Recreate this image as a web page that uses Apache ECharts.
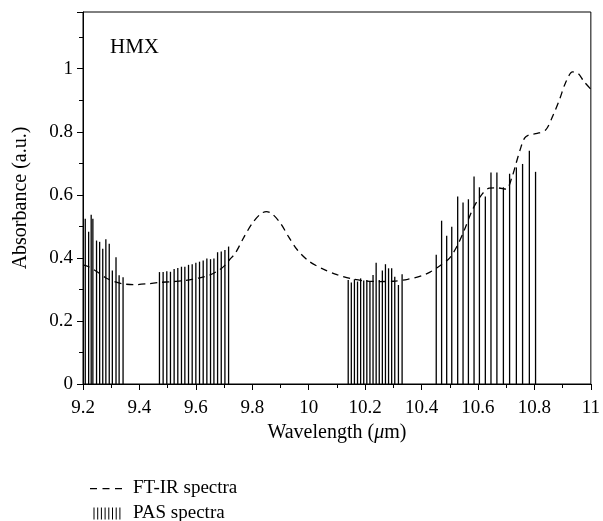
<!DOCTYPE html>
<html><head><meta charset="utf-8">
<script src="https://cdn.jsdelivr.net/npm/echarts@6/dist/echarts.min.js"></script>
<style>html,body{margin:0;padding:0;background:#fff}#c{width:603px;height:521px}</style>
</head><body><div id="c"></div>
<script>
// FT-IR spectrum (dashed curve)
const ftirWavelength = [9.20, 9.22, 9.25, 9.28, 9.31, 9.34, 9.38, 9.43, 9.47, 9.52, 9.56, 9.61, 9.65, 9.68, 9.70, 9.72, 9.74, 9.77, 9.80, 9.83, 9.85, 9.87, 9.90, 9.93, 9.96, 10.00, 10.05, 10.10, 10.15, 10.20, 10.25, 10.30, 10.35, 10.40, 10.43, 10.47, 10.50, 10.525, 10.55, 10.58, 10.61, 10.64, 10.67, 10.70, 10.72, 10.735, 10.75, 10.765, 10.78, 10.81, 10.84, 10.865, 10.89, 10.91, 10.935, 10.955, 10.975, 11.00];
const ftirAbsorbance = [0.378, 0.372, 0.356, 0.337, 0.325, 0.318, 0.315, 0.318, 0.322, 0.325, 0.328, 0.336, 0.346, 0.360, 0.374, 0.395, 0.415, 0.465, 0.510, 0.540, 0.547, 0.540, 0.510, 0.465, 0.425, 0.390, 0.365, 0.347, 0.334, 0.327, 0.325, 0.326, 0.332, 0.343, 0.355, 0.378, 0.400, 0.436, 0.485, 0.552, 0.597, 0.621, 0.622, 0.618, 0.655, 0.700, 0.745, 0.780, 0.790, 0.795, 0.806, 0.850, 0.905, 0.955, 0.990, 0.985, 0.960, 0.935];

// PAS spectrum (vertical lines), four wavelength bands
const pasWavelength1 = [9.208, 9.220, 9.229, 9.235, 9.248, 9.259, 9.270, 9.281, 9.293, 9.304, 9.317, 9.328, 9.342];
const pasAbsorbance1 = [0.524, 0.483, 0.537, 0.524, 0.455, 0.451, 0.429, 0.459, 0.445, 0.360, 0.402, 0.345, 0.339];
const pasWavelength2 = [9.471, 9.484, 9.497, 9.510, 9.523, 9.536, 9.549, 9.561, 9.574, 9.587, 9.600, 9.613, 9.626, 9.639, 9.652, 9.664, 9.677, 9.690, 9.703, 9.716];
const pasAbsorbance2 = [0.355, 0.355, 0.358, 0.356, 0.365, 0.368, 0.372, 0.372, 0.378, 0.380, 0.385, 0.388, 0.392, 0.398, 0.396, 0.398, 0.418, 0.420, 0.425, 0.436];
const pasWavelength3 = [10.140, 10.151, 10.162, 10.173, 10.184, 10.195, 10.206, 10.217, 10.228, 10.239, 10.250, 10.261, 10.272, 10.283, 10.294, 10.305, 10.318, 10.331];
const pasAbsorbance3 = [0.330, 0.322, 0.332, 0.325, 0.335, 0.328, 0.330, 0.326, 0.346, 0.385, 0.330, 0.360, 0.380, 0.367, 0.367, 0.340, 0.314, 0.348];
const pasWavelength4 = [10.452, 10.471, 10.489, 10.507, 10.528, 10.547, 10.566, 10.586, 10.605, 10.626, 10.646, 10.667, 10.690, 10.712, 10.736, 10.758, 10.782, 10.804];
const pasAbsorbance4 = [0.410, 0.518, 0.470, 0.499, 0.595, 0.576, 0.586, 0.658, 0.624, 0.595, 0.671, 0.671, 0.624, 0.667, 0.687, 0.698, 0.740, 0.673];

const xTicks = {min: 9.2, max: 11, interval: 0.2};
const yTicks = {min: 0, max: 1.18, interval: 0.2};

const FONT = 'Liberation Serif';
const pair = (xs, ys) => xs.map((x, i) => [x, ys[i]]);
const ftirData = pair(ftirWavelength, ftirAbsorbance);
const pasData = [].concat(
  pair(pasWavelength1, pasAbsorbance1),
  pair(pasWavelength2, pasAbsorbance2),
  pair(pasWavelength3, pasAbsorbance3),
  pair(pasWavelength4, pasAbsorbance4)
);

// legend icons (anchored to a 32x12 box by two tiny corner squares)
const anchors = ' M0,0h0.01v0.01h-0.01z M31.99,11.99h0.01v0.01h-0.01z';
const dashIcon = 'path://M0,5.4h7v1.3h-7z M12.5,5.4h7v1.3h-7z M25,5.4h7v1.3h-7z' + anchors;
let barsPath = '';
[3.5, 7.2, 10.9, 14.6, 18.3, 22, 25.7, 29.4].forEach(x => { barsPath += 'M' + x + ',0h1v12h-1z '; });
const barsIcon = 'path://' + barsPath + anchors;

const chart = echarts.init(document.getElementById('c'), null, {renderer: 'canvas'});
const axisCommon = {
  axisLine: {show: true, lineStyle: {color: '#000', width: 1}},
  axisTick: {show: true, inside: false, length: 6, lineStyle: {color: '#000', width: 1}},
  minorTick: {show: true, splitNumber: 2, length: 4, lineStyle: {color: '#000', width: 1}},
  splitLine: {show: false},
  minorSplitLine: {show: false},
  axisLabel: {color: '#000', fontFamily: FONT, fontSize: 19, margin: 10},
  nameTextStyle: {color: '#000', fontFamily: FONT, fontSize: 20}
};
chart.setOption({
  animation: false,
  backgroundColor: '#fff',
  title: {text: 'HMX', left: 110, top: 37, padding: 0, textStyle: {fontFamily: FONT, fontSize: 21, fontWeight: 'normal', color: '#000'}},
  grid: {left: 83, right: 12, top: 12, bottom: 137, show: true, borderColor: '#000', borderWidth: 1, backgroundColor: 'transparent'},
  legend: {
    orient: 'vertical', left: 85, top: 474, height: 80, itemWidth: 32, itemHeight: 12, itemGap: 6,
    itemStyle: {borderWidth: 0},
    textStyle: {fontFamily: FONT, fontSize: 19, color: '#000', padding: [0, 0, 0, 6]},
    data: [
      {name: 'FT-IR spectra', icon: dashIcon},
      {name: 'PAS spectra', icon: barsIcon}
    ]
  },
  xAxis: Object.assign({}, axisCommon, {
    type: 'value', min: xTicks.min, max: xTicks.max, interval: xTicks.interval,
    axisLabel: Object.assign({}, axisCommon.axisLabel, {margin: 15}),
    name: '{n|Wavelength (}{i|μ}{n|m)}', nameLocation: 'middle', nameGap: 37,
    nameTextStyle: {color: '#000', fontFamily: FONT, fontSize: 20,
      rich: {n: {fontFamily: FONT, fontSize: 20, color: '#000'}, i: {fontFamily: FONT, fontSize: 20, fontStyle: 'italic', color: '#000'}}}
  }),
  yAxis: Object.assign({}, axisCommon, {
    type: 'value', min: yTicks.min, max: yTicks.max, interval: yTicks.interval,
    axisLabel: Object.assign({}, axisCommon.axisLabel, {showMaxLabel: false}),
    name: 'Absorbance (a.u.)', nameLocation: 'middle', nameGap: 52
  }),
  series: [
    {
      name: 'PAS spectra', type: 'bar', data: pasData, barWidth: 1.3,
      itemStyle: {color: '#000'}, z: 2
    },
    {
      name: 'FT-IR spectra', type: 'line', data: ftirData, smooth: 0.3, symbol: 'none',
      lineStyle: {color: '#000', width: 1.3, type: [7, 5]}, itemStyle: {color: '#000'}, z: 3
    }
  ]
});
</script>
</body></html>
